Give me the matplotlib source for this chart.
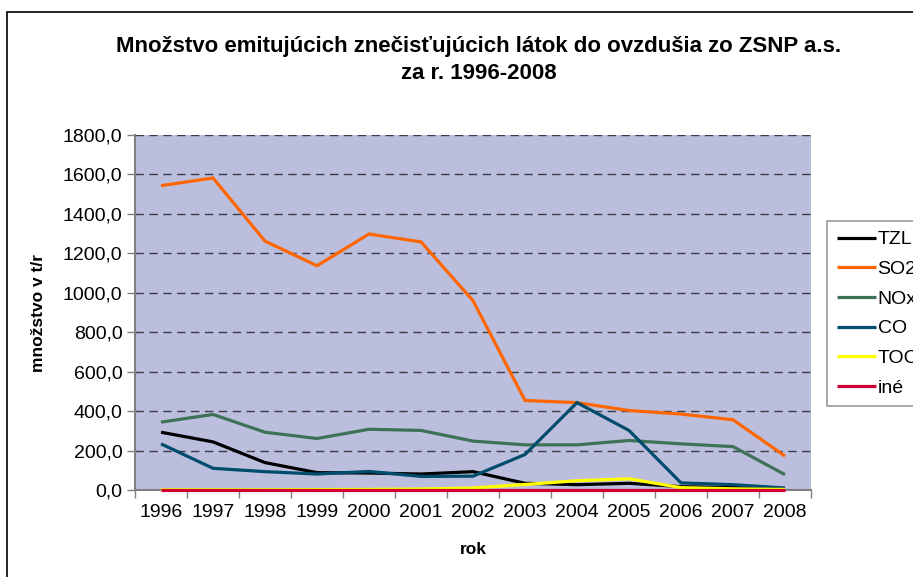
import numpy as np
import matplotlib
matplotlib.use('Agg')
import matplotlib.pyplot as plt
from matplotlib.patches import Rectangle
from matplotlib.ticker import FuncFormatter, FixedLocator

plt.rcParams['font.family'] = ['Liberation Sans', 'DejaVu Sans']

# ── Data (t/r) ───────────────────────────────────────────────────────────────
YEARS = ['1996', '1997', '1998', '1999', '2000', '2001', '2002',
         '2003', '2004', '2005', '2006', '2007', '2008']
TZL = [293, 244, 139, 88, 86, 81, 93, 34, 27, 34, 17, 12, 8]
SO2 = [1543, 1582, 1262, 1137, 1298, 1258, 960, 454, 443, 403, 385, 356, 172]
NOX = [344, 383, 293, 261, 308, 302, 248, 229, 229, 251, 234, 220, 78]
CO = [234, 110, 93, 81, 94, 69, 70, 180, 443, 302, 36, 27, 10]
TOC = [1, 1, 1, 2, 3, 5, 10, 28, 47, 57, 12, 6, 3]
INE = [2, 2, 2, 2, 2, 2, 2, 2, 2, 2, 2, 2, 2]

SERIES = [('TZL', TZL, '#000000'),
          ('SO2', SO2, '#FF6600'),
          ('NOx', NOX, '#3E7257'),
          ('CO', CO, '#004C6C'),
          ('TOC', TOC, '#FFFF00'),
          ('iné', INE, '#CC0033')]

W, H = 913, 577
fig = plt.figure(figsize=(W / 100, H / 100), dpi=100)
fig.patch.set_facecolor('white')

# outer chart-area border (right and bottom edges fall outside the image)
fig.patches.append(Rectangle((7 / W, -0.1), 1.2, 1 - 12 / H + 0.1,
                             transform=fig.transFigure, fill=False,
                             ec='black', lw=1.2))

ax = fig.add_axes([135 / W, 1 - 490 / H, 676 / W, 355 / H])
ax.set_facecolor('#BBBEDC')

x = np.arange(len(YEARS))
handles = []
for i, (name, vals, col) in enumerate(SERIES):
    h, = ax.plot(x, vals, '-', color=col, lw=2.3, label=name,
                 solid_joinstyle='miter', solid_capstyle='butt',
                 zorder=3 + i, clip_on=False)
    handles.append(h)

ax.set_xlim(-0.5, len(YEARS) - 0.5)
ax.set_ylim(0, 1800)
ax.set_yticks(np.arange(0, 1801, 200))
ax.yaxis.set_major_formatter(FuncFormatter(lambda v, p: f'{v:.1f}'.replace('.', ',')))
ax.set_xticks(x)
ax.set_xticklabels(YEARS)
ax.xaxis.set_minor_locator(FixedLocator(np.arange(-0.5, len(YEARS), 1.0)))

ax.tick_params(axis='y', direction='out', length=6, width=1, color='#808080',
               labelsize=14, pad=3)
ax.tick_params(axis='x', which='major', length=0, labelsize=14, pad=10)
ax.tick_params(axis='x', which='minor', direction='out', length=6, width=1,
               color='#808080')

for y in np.arange(200, 1801, 200):
    ax.axhline(y, color='#3A3A48', lw=1.0, ls=(0, (6, 4)), zorder=1)

for s in ['top', 'right']:
    ax.spines[s].set_visible(False)
for s in ['left', 'bottom']:
    ax.spines[s].set_color('#808080')
    ax.spines[s].set_linewidth(1.5)
    ax.spines[s].set_zorder(2)

ax.set_ylabel('množstvo v t/r', fontsize=12.5, fontweight='bold', labelpad=12)
ax.set_xlabel('rok', fontsize=12.5, fontweight='bold', labelpad=15)

fig.text(479 / W, 1 - 60 / H,
         'Množstvo emitujúcich znečisťujúcich látok do ovzdušia zo ZSNP a.s.\nza r. 1996-2008',
         ha='center', va='center', fontsize=16, fontweight='bold',
         linespacing=1.35)

leg = fig.legend(handles=handles, loc='upper left',
                 bbox_to_anchor=(827 / W, 1 - 221 / H), borderaxespad=0,
                 fontsize=14, frameon=True, fancybox=False,
                 handlelength=2.0, handletextpad=0.1, labelspacing=0.62,
                 borderpad=0.5)
leg.get_frame().set_edgecolor('#808080')
leg.get_frame().set_linewidth(1.2)

plt.savefig('out.png', dpi=100)
plt.close()
